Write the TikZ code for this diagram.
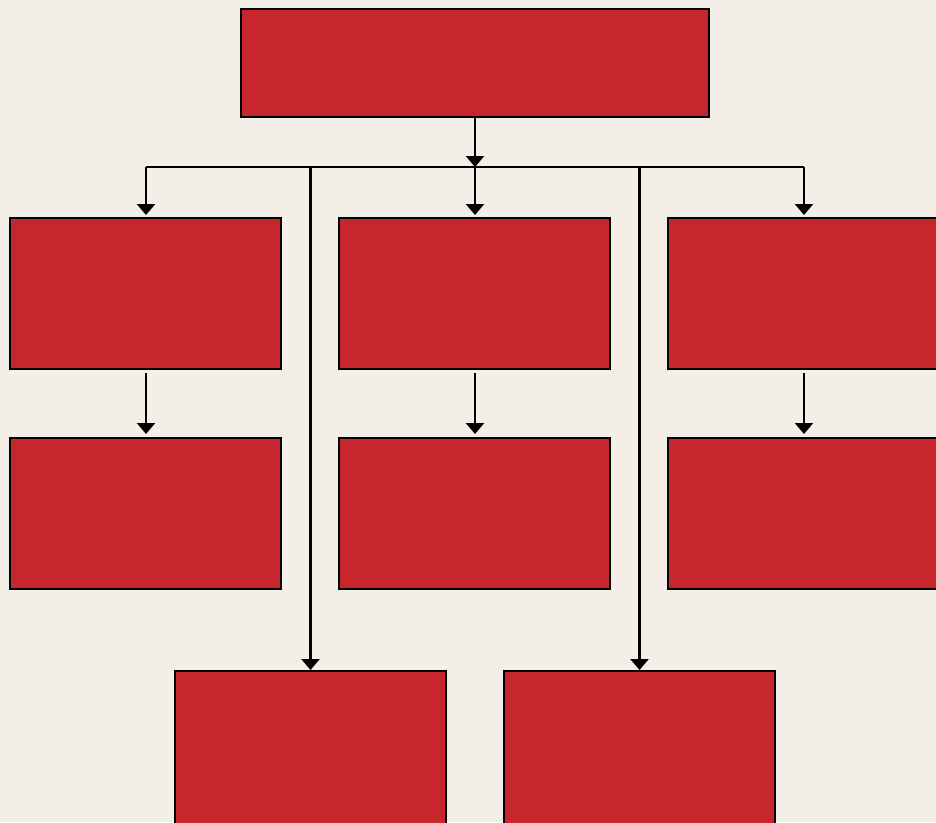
\documentclass[tikz,border=0pt]{standalone}
\usetikzlibrary{arrows.meta}
\definecolor{bg}{HTML}{F3EFE7}
\definecolor{boxred}{HTML}{C8262D}
\begin{document}
\begin{tikzpicture}[x=1pt,y=-1pt,
  redbox/.style={draw=black,line width=2.4pt,fill=boxred,inner sep=0pt,outer sep=0pt,anchor=north west},
  conn/.style={draw=black,line width=2.4pt},
  arr/.style={conn,-{Triangle[width=18pt,length=11pt]}}]
\useasboundingbox (0,0) rectangle (936,822);
\fill[bg] (0,0) rectangle (936,822);
\clip (0,0) rectangle (936,822);
\node[redbox,minimum width=468pt,minimum height=108pt] (top) at (241,9) {};
\node[redbox,minimum width=271pt,minimum height=151pt] (a1) at (10,218) {};
\node[redbox,minimum width=271pt,minimum height=151pt] (b1) at (339,218) {};
\node[redbox,minimum width=271pt,minimum height=151pt] (c1) at (668,218) {};
\node[redbox,minimum width=271pt,minimum height=151pt] (a2) at (10,438) {};
\node[redbox,minimum width=271pt,minimum height=151pt] (b2) at (339,438) {};
\node[redbox,minimum width=271pt,minimum height=151pt] (c2) at (668,438) {};
\node[redbox,minimum width=271pt,minimum height=160pt] (d) at (175,671) {};
\node[redbox,minimum width=271pt,minimum height=160pt] (e) at (504,671) {};
\coordinate (j) at (475,167);
\coordinate (jl) at (146,167);
\coordinate (jr) at (804,167);
\draw[arr] (j |- top.south) -- (j);
\draw[conn] (jl) -- (jr);
\draw[arr,shorten >=3pt] (jl) -- (jl |- a1.north);
\draw[arr,shorten >=3pt] (j) -- (j |- b1.north);
\draw[arr,shorten >=3pt] (jr) -- (jr |- c1.north);
\draw[arr,shorten <=4pt,shorten >=4pt] (jl |- a1.south) -- (jl |- a2.north);
\draw[arr,shorten <=4pt,shorten >=4pt] (j |- b1.south) -- (j |- b2.north);
\draw[arr,shorten <=4pt,shorten >=4pt] (jr |- c1.south) -- (jr |- c2.north);
\draw[arr,shorten >=1pt] (d.north |- j) -- (d.north);
\draw[arr,shorten >=1pt] (e.north |- j) -- (e.north);
\end{tikzpicture}
\end{document}
